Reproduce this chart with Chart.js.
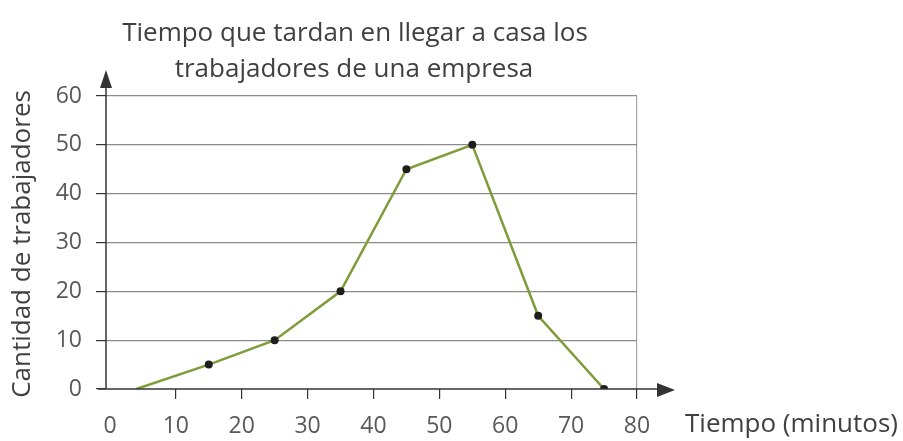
<!DOCTYPE html>
<html lang="es">
<head>
<meta charset="utf-8">
<title>Tiempo que tardan en llegar a casa</title>
<script src="https://cdn.jsdelivr.net/npm/chart.js@4.4.1/dist/chart.umd.min.js"></script>
<style>
    html, body {
        margin: 0;
        padding: 0;
        background: #ffffff;
    }
    .wrapper {
        width: 903px;
        height: 441px;
        position: relative;
    }
</style>
</head>
<body>
<div class="wrapper">
    <canvas id="chart_tiempo" width="903" height="441"></canvas>
</div>
<script>
// datos
const tiempos = [4, 15, 25, 35, 45, 55, 65, 75];
const trabajadores = [0, 5, 10, 20, 45, 50, 15, 0];
const xTicks = [0, 10, 20, 30, 40, 50, 60, 70, 80];
const yTicks = [0, 10, 20, 30, 40, 50, 60];

const titleLines = ["Tiempo que tardan en llegar a casa los", "trabajadores de una empresa"];
const yTitle = "Cantidad de trabajadores";
const xTitle = "Tiempo (minutos)";

const FONT = "'Open Sans', 'Noto Sans', sans-serif";
const COLORS = {
    text: "#404040",
    tick: "#595959",
    axis: "#333333",
    grid: "#8c8c8c",
    line: "#7f9b3a",
    point: "#1e1e1e"
};

// ejes con flechas y textos
const decoPlugin = {
    id: "deco",
    afterDraw(chart) {
        const { ctx, chartArea, scales } = chart;
        const x0 = chartArea.left;
        const y0 = scales.y.getPixelForValue(0);

        ctx.save();
        ctx.strokeStyle = COLORS.axis;
        ctx.fillStyle = COLORS.axis;
        ctx.lineWidth = 1.5;

        // eje y
        ctx.beginPath();
        ctx.moveTo(x0, y0);
        ctx.lineTo(x0, chartArea.top - 12);
        ctx.stroke();
        ctx.beginPath();
        ctx.moveTo(x0, chartArea.top - 26);
        ctx.lineTo(x0 - 6, chartArea.top - 8);
        ctx.lineTo(x0 + 6, chartArea.top - 8);
        ctx.closePath();
        ctx.fill();

        // eje x
        ctx.beginPath();
        ctx.moveTo(x0 - 8, y0);
        ctx.lineTo(chartArea.right + 24, y0);
        ctx.stroke();
        ctx.beginPath();
        ctx.moveTo(chartArea.right + 38, y0 + 1);
        ctx.lineTo(chartArea.right + 20, y0 - 6);
        ctx.lineTo(chartArea.right + 20, y0 + 8);
        ctx.closePath();
        ctx.fill();

        // titulo
        ctx.fillStyle = COLORS.text;
        ctx.font = `26px ${FONT}`;
        ctx.textAlign = "center";
        ctx.textBaseline = "alphabetic";
        ctx.fillText(titleLines[0], 355, 41);
        ctx.fillText(titleLines[1], 354, 77);

        // titulo eje x
        ctx.font = `26px ${FONT}`;
        ctx.textAlign = "left";
        ctx.fillText(xTitle, 685, 432);

        // titulo eje y
        ctx.translate(23, 244);
        ctx.rotate(-Math.PI / 2);
        ctx.textAlign = "center";
        ctx.textBaseline = "middle";
        ctx.fillText(yTitle, 0, 0);
        ctx.restore();
    }
};

const chartEle = document.getElementById("chart_tiempo");

new Chart(chartEle, {
    type: "line",
    data: {
        datasets: [{
            data: tiempos.map((t, i) => ({ x: t, y: trabajadores[i] })),
            borderColor: COLORS.line,
            borderWidth: 2.5,
            tension: 0,
            fill: false,
            pointRadius: (c) => c.dataIndex === 0 ? 0 : 4,
            pointBackgroundColor: COLORS.point,
            pointBorderColor: COLORS.point,
            pointBorderWidth: 0
        }]
    },
    options: {
        responsive: false,
        animation: false,
        layout: {
            padding: { top: 96, right: 266, left: 0, bottom: 0 }
        },
        plugins: {
            legend: { display: false },
            tooltip: { enabled: false },
            title: { display: false }
        },
        scales: {
            x: {
                type: "linear",
                min: -0.6,
                max: 80,
                afterBuildTicks: (s) => {
                    s.ticks = xTicks.map(v => ({ value: v }));
                },
                afterFit: (s) => {
                    s.height = 52;
                },
                border: { display: false },
                grid: {
                    drawTicks: true,
                    tickLength: 10,
                    color: (c) => c.tick && c.tick.value === 80 ? "#a5a5a5" : "rgba(0,0,0,0)",
                    tickColor: (c) => c.tick && c.tick.value === 0 ? "rgba(0,0,0,0)" : COLORS.axis,
                    lineWidth: 1.2
                },
                ticks: {
                    color: COLORS.tick,
                    font: { family: FONT, size: 23 },
                    padding: 14,
                    maxRotation: 0,
                    autoSkip: false
                }
            },
            y: {
                min: 0,
                max: 60,
                afterBuildTicks: (s) => {
                    s.ticks = yTicks.map(v => ({ value: v }));
                },
                afterFit: (s) => {
                    s.width = 106;
                },
                border: { display: false },
                grid: {
                    drawTicks: true,
                    tickLength: 10,
                    color: (c) => c.tick && c.tick.value === 0 ? "rgba(0,0,0,0)" : COLORS.grid,
                    tickColor: COLORS.axis,
                    lineWidth: 1.2
                },
                ticks: {
                    color: COLORS.tick,
                    font: { family: FONT, size: 23 },
                    padding: 14
                }
            }
        }
    },
    plugins: [decoPlugin]
});
</script>
</body>
</html>
